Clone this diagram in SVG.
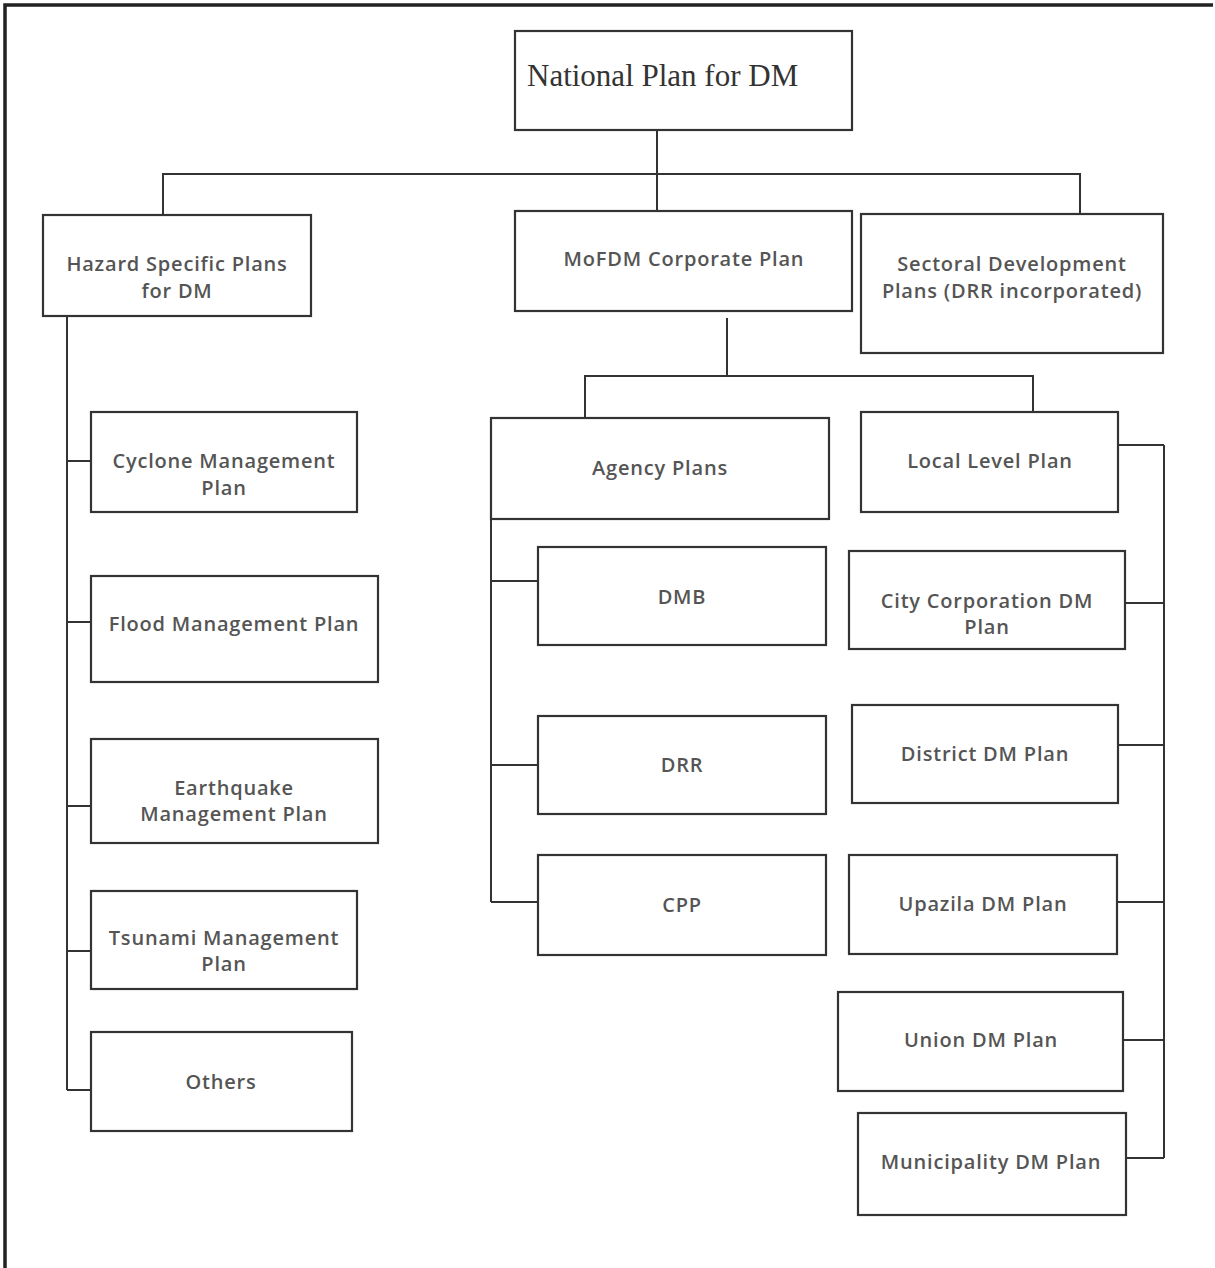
<svg xmlns="http://www.w3.org/2000/svg" width="1215" height="1268" viewBox="0 0 1215 1268">
<style>
.box{fill:#fff;stroke:#333;stroke-width:2.2}
.t{font-family:"Open Sans","Liberation Sans",sans-serif;font-size:20px;font-weight:600;letter-spacing:0.8px;fill:#555;text-anchor:middle}
.title{font-family:"Liberation Serif",serif;font-size:31px;fill:#333}
.c{fill:none;stroke:#333;stroke-width:2}
</style>
<rect x="0" y="0" width="1215" height="1268" fill="#fff"/>
<path d="M5,1268 V5 H1213" fill="none" stroke="#222" stroke-width="3.5"/>
<g id="connectors">
<path class="c" d="M657,130 V212 M163,215 V174 H1080 V214"/>
<path class="c" d="M727,318 V376 M585,418 V376 H1033 V412"/>
<path class="c" d="M67,316 V1090 M67,461 H91 M67,622 H91 M67,806 H91 M67,951 H91 M67,1090 H91"/>
<path class="c" d="M491,519 V902 M491,581 H538 M491,765 H538 M491,902 H538"/>
<path class="c" d="M1164,445 V1158 M1118,445 H1164 M1125,603 H1164 M1118,745 H1164 M1117,902 H1164 M1123,1040 H1164 M1126,1158 H1164"/>
</g>
<g id="national"><rect class="box" x="515" y="31" width="337" height="99"/><text class="title" x="527" y="86">National Plan for DM</text></g>
<g id="hazard"><rect class="box" x="43" y="215" width="268" height="101"/><text class="t" x="177" y="271">Hazard Specific Plans</text><text class="t" x="177" y="298">for DM</text></g>
<g id="mofdm"><rect class="box" x="515" y="211" width="337" height="100"/><text class="t" x="684" y="266">MoFDM Corporate Plan</text></g>
<g id="sectoral"><rect class="box" x="861" y="214" width="302" height="139"/><text class="t" x="1012" y="271">Sectoral Development</text><text class="t" x="1012" y="298">Plans (DRR incorporated)</text></g>
<g id="agency"><rect class="box" x="491" y="418" width="338" height="101"/><text class="t" x="660" y="475">Agency Plans</text></g>
<g id="local"><rect class="box" x="861" y="412" width="257" height="100"/><text class="t" x="990" y="468">Local Level Plan</text></g>
<g id="cyclone"><rect class="box" x="91" y="412" width="266" height="100"/><text class="t" x="224" y="468">Cyclone Management</text><text class="t" x="224" y="495">Plan</text></g>
<g id="flood"><rect class="box" x="91" y="576" width="287" height="106"/><text class="t" x="234" y="631">Flood Management Plan</text></g>
<g id="earthquake"><rect class="box" x="91" y="739" width="287" height="104"/><text class="t" x="234" y="795">Earthquake</text><text class="t" x="234" y="821">Management Plan</text></g>
<g id="tsunami"><rect class="box" x="91" y="891" width="266" height="98"/><text class="t" x="224" y="945">Tsunami Management</text><text class="t" x="224" y="971">Plan</text></g>
<g id="others"><rect class="box" x="91" y="1032" width="261" height="99"/><text class="t" x="221" y="1089">Others</text></g>
<g id="dmb"><rect class="box" x="538" y="547" width="288" height="98"/><text class="t" x="682" y="604">DMB</text></g>
<g id="drr"><rect class="box" x="538" y="716" width="288" height="98"/><text class="t" x="682" y="772">DRR</text></g>
<g id="cpp"><rect class="box" x="538" y="855" width="288" height="100"/><text class="t" x="682" y="912">CPP</text></g>
<g id="city"><rect class="box" x="849" y="551" width="276" height="98"/><text class="t" x="987" y="608">City Corporation DM</text><text class="t" x="987" y="634">Plan</text></g>
<g id="district"><rect class="box" x="852" y="705" width="266" height="98"/><text class="t" x="985" y="761">District DM Plan</text></g>
<g id="upazila"><rect class="box" x="849" y="855" width="268" height="99"/><text class="t" x="983" y="911">Upazila DM Plan</text></g>
<g id="union"><rect class="box" x="838" y="992" width="285" height="99"/><text class="t" x="981" y="1047">Union DM Plan</text></g>
<g id="municipality"><rect class="box" x="858" y="1113" width="268" height="102"/><text class="t" x="991" y="1169">Municipality DM Plan</text></g>
</svg>
